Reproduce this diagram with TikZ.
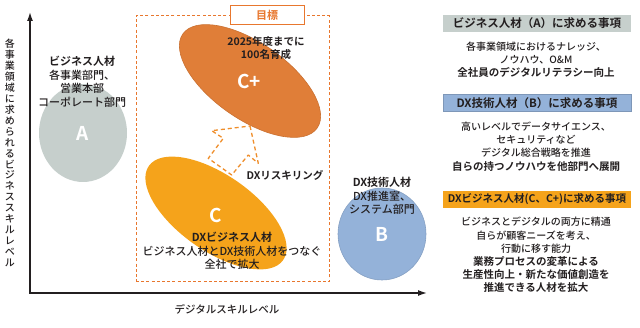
\documentclass[tikz,border=0pt]{standalone}
\usepackage{fontspec}
\setmainfont{Noto Sans CJK JP}[UprightFont={Noto Sans CJK JP Medium},BoldFont={Noto Sans CJK JP Bold}]
\usepackage{tikz}
\usetikzlibrary{arrows.meta,shapes.geometric}
\definecolor{Ink}{HTML}{231F20}
\definecolor{Ember}{HTML}{E07E38}
\definecolor{Amber}{HTML}{F5A31B}
\definecolor{Sage}{HTML}{C6CFCC}
\definecolor{Steel}{HTML}{94B2D9}
\definecolor{Rust}{HTML}{E8772E}
\definecolor{Flame}{HTML}{EF8E2B}
\newcommand\keyline[1]{{\fontsize{10.5}{13.2}\selectfont\bfseries #1}}

\begin{document}
\begin{tikzpicture}[
  x=1pt,y=-1pt,>={Latex[length=9pt,width=6pt]},
  blob/.style={ellipse,inner sep=0pt,line width=.6pt},
  tag/.style={font=\fontsize{19}{20}\selectfont\bfseries,text=white,inner sep=0pt},
  note/.style={font=\fontsize{11}{13.5}\selectfont,text=Ink,align=center,inner sep=0pt},
  body/.style={font=\fontsize{10}{13.2}\selectfont,text=Ink,align=center,inner sep=0pt},
  head/.style={minimum width=188pt,minimum height=17pt,inner sep=0pt,
    font=\fontsize{11.5}{12}\selectfont\bfseries,text=Ink},
  axis/.style={<->,line width=1.4pt,draw=Ink}
]
\useasboundingbox (0,0) rectangle (640,328);
% axes
\coordinate (ytop) at (30,12);
\coordinate (origin) at (30,293);
\coordinate (xend) at (427,293);
\draw[axis] (ytop)--(origin)--(xend);
\node[body,font=\fontsize{10}{10.95}\selectfont] (ylabel) at (10,153)
  {各\\事\\業\\領\\域\\に\\求\\め\\ら\\れ\\る\\ビ\\ジ\\ネ\\ス\\ス\\キ\\ル\\レ\\ベ\\ル};
\node[note,font=\fontsize{10.5}{12}\selectfont] (xlabel) at (227,309) {デジタルスキルレベル};
% target frame
\node[draw=Rust,dash pattern=on 3pt off 2.2pt,line width=1pt,
  minimum width=193pt,minimum height=266pt,inner sep=0pt] (goal) at (232.5,149) {};
% talent groups
\node[blob,fill=Sage,minimum width=88pt,minimum height=98pt] (ta) at (83,133) {};
\node[blob,fill=Steel,draw=Steel!90!black,minimum width=88pt,minimum height=92pt] (tb) at (382,234) {};
\node[blob,fill=Amber,minimum width=164pt,minimum height=76pt,rotate=-35] (tc) at (216,213) {};
\node[blob,fill=Ember,draw=Ember!90!black,minimum width=164pt,minimum height=76pt,rotate=-35] (tcp) at (250,81) {};
\draw[Flame,line width=1.3pt,dash pattern=on 4pt off 3pt,line join=round]
  (250,126)--(258.3,163.3)--(248.3,155)--(231.7,175)--(208.3,158.3)
  --(223.3,138.3)--(211.7,130.7)--cycle;
\node[tag] (taga) at (83,133) {A};
\node[tag] (tagb) at (382,234) {B};
\node[tag] (tagc) at (216,215) {C};
\node[tag] (tagcp) at (249,81) {C+};
\node[note] (lbla) at (82,82) {\textbf{ビジネス人材}\\各事業部門、\\営業本部\\コーポレート部門};
\node[note] (lblb) at (382,196) {\textbf{DX技術人材}\\DX推進室、\\システム部門};
\node[note] (lblc) at (232,251) {\textbf{DXビジネス人材}\\ビジネス人材とDX技術人材をつなぐ\\全社で拡大};
\node[note,font=\fontsize{10.5}{12.5}\selectfont\bfseries] (lblcp) at (266,48) {2025年度までに\\100名育成};
\node[note,font=\fontsize{10.5}{12}\selectfont\bfseries] (reskill) at (285,175) {DXリスキリング};
\node[draw=Rust,fill=white,line width=1pt,minimum width=74pt,minimum height=19pt,inner sep=0pt,
  text=Rust,font=\fontsize{11}{12}\selectfont\bfseries] (goaltag) at (267,15.5) {目標};
% requirements
\node[head,fill=Sage] (heada) at (537,23.5) {ビジネス人材（A）に求める事項};
\node[body] (bodya) at (536,60) {各事業領域におけるナレッジ、\\ノウハウ、O\&M\\\keyline{全社員のデジタルリテラシー向上}};
\node[head,fill=Steel,draw=Steel!85!black,line width=.4pt] (headb) at (537,103) {DX技術人材（B）に求める事項};
\node[body] (bodyb) at (536,146.5) {高いレベルでデータサイエンス、\\セキュリティなど\\デジタル総合戦略を推進\\\keyline{自らの持つノウハウを他部門へ展開}};
\node[head,fill=Amber,font=\fontsize{10.5}{12}\selectfont\bfseries] (headc) at (537,199.5) {DXビジネス人材(C、C+)に求める事項};
\node[body] (bodyc) at (536,255) {ビジネスとデジタルの両方に精通\\自らが顧客ニーズを考え、\\行動に移す能力\\
  \keyline{業務プロセスの変革による}\\\keyline{生産性向上・新たな価値創造を}\\\keyline{推進できる人材を拡大}};
\end{tikzpicture}
\end{document}
